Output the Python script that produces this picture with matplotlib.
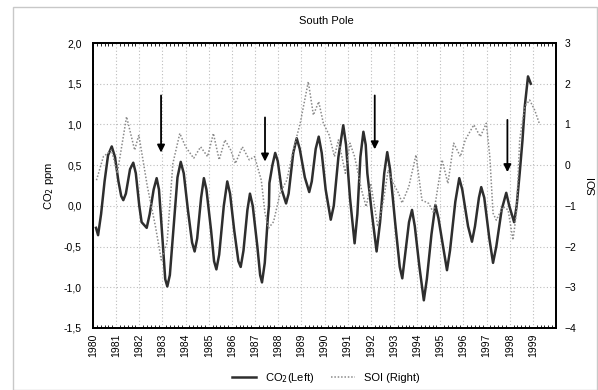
import matplotlib.pyplot as plt
import matplotlib.ticker as mticker
from matplotlib.patches import Rectangle

plt.rcParams['font.family'] = ['Liberation Sans', 'DejaVu Sans']

# CO2 anomaly (left axis, ppm)
co2_t = [1980.13, 1980.22, 1980.35, 1980.5, 1980.65, 1980.81, 1980.95, 1981.1, 1981.22, 1981.31,
         1981.42, 1981.6, 1981.74, 1981.85, 1982.0, 1982.10, 1982.32, 1982.45, 1982.62, 1982.75,
         1982.85, 1983.0, 1983.12, 1983.21, 1983.32, 1983.5, 1983.65, 1983.79, 1983.92, 1984.1,
         1984.28, 1984.39, 1984.5, 1984.67, 1984.79, 1984.9, 1985.1, 1985.23, 1985.33, 1985.45,
         1985.65, 1985.80, 1985.92, 1986.1, 1986.28, 1986.38, 1986.5, 1986.67, 1986.78, 1986.9,
         1987.1, 1987.22, 1987.30, 1987.42, 1987.55, 1987.6, 1987.62, 1987.75, 1987.87, 1987.98,
         1988.15, 1988.34, 1988.45, 1988.65, 1988.80, 1988.93, 1989.15, 1989.34, 1989.45, 1989.62,
         1989.75, 1989.88, 1990.05, 1990.27, 1990.4, 1990.6, 1990.81, 1990.93, 1991.1, 1991.3,
         1991.42, 1991.55, 1991.68, 1991.78, 1991.85, 1992.05, 1992.25, 1992.4, 1992.58, 1992.71,
         1992.83, 1993.05, 1993.25, 1993.36, 1993.48, 1993.65, 1993.78, 1993.9, 1994.1, 1994.29,
         1994.42, 1994.62, 1994.79, 1994.92, 1995.15, 1995.29, 1995.42, 1995.65, 1995.82, 1995.95,
         1996.2, 1996.37, 1996.5, 1996.67, 1996.77, 1996.9, 1997.12, 1997.28, 1997.42, 1997.65,
         1997.85, 1997.98, 1998.19, 1998.3, 1998.43, 1998.55, 1998.65, 1998.79, 1998.91]
co2_v = [-0.27, -0.36, -0.1, 0.3, 0.62, 0.73, 0.6, 0.3, 0.12, 0.07,
         0.15, 0.45, 0.53, 0.4, 0.0, -0.20, -0.27, -0.1, 0.2, 0.34,
         0.2, -0.4, -0.9, -0.99, -0.85, -0.2, 0.35, 0.54, 0.4, -0.05,
         -0.45, -0.56, -0.4, 0.1, 0.34, 0.2, -0.3, -0.68, -0.78, -0.6,
         0.0, 0.30, 0.15, -0.3, -0.68, -0.75, -0.55, -0.05, 0.15, 0.0,
         -0.5, -0.85, -0.94, -0.7, -0.15, 0.0, 0.28, 0.5, 0.65, 0.55,
         0.2, 0.03, 0.15, 0.65, 0.83, 0.7, 0.35, 0.17, 0.3, 0.7,
         0.85, 0.65, 0.2, -0.17, 0.0, 0.6, 0.99, 0.75, 0.1, -0.46,
         -0.1, 0.6, 0.91, 0.75, 0.40, -0.1, -0.56, -0.2, 0.4, 0.66,
         0.45, -0.2, -0.75, -0.89, -0.6, -0.2, -0.05, -0.25, -0.75, -1.16,
         -0.9, -0.35, 0.01, -0.15, -0.55, -0.79, -0.55, 0.05, 0.34, 0.2,
         -0.25, -0.44, -0.25, 0.1, 0.23, 0.1, -0.4, -0.70, -0.5, -0.05,
         0.16, 0.0, -0.20, 0.0, 0.40, 0.8, 1.22, 1.59, 1.50]

# Southern Oscillation Index (right axis)
soi_t = [1980.15, 1980.45, 1980.8, 1981.05, 1981.45, 1981.8, 1981.98, 1982.35, 1982.7, 1982.95,
         1983.2, 1983.45, 1983.75, 1984.0, 1984.35, 1984.65, 1984.95, 1985.2, 1985.45, 1985.7,
         1985.95, 1986.15, 1986.45, 1986.75, 1986.98, 1987.27, 1987.43, 1987.58, 1987.8, 1988.08,
         1988.37, 1988.65, 1988.95, 1989.3, 1989.52, 1989.75, 1989.95, 1990.2, 1990.43, 1990.6,
         1990.9, 1991.1, 1991.3, 1991.6, 1991.8, 1992.0, 1992.3, 1992.55, 1992.75, 1992.97,
         1993.2, 1993.35, 1993.64, 1993.95, 1994.21, 1994.5, 1994.72, 1995.08, 1995.33, 1995.58,
         1995.87, 1996.08, 1996.45, 1996.73, 1996.99, 1997.14, 1997.28, 1997.42, 1997.71, 1997.93,
         1998.14, 1998.29, 1998.43, 1998.65, 1998.86, 1999.08, 1999.3]
soi_v = [-0.37, 0.21, 0.37, -0.2, 1.19, 0.37, 0.74, -0.53, -1.51, -2.33,
         -1.9, 0.04, 0.78, 0.45, 0.17, 0.45, 0.21, 0.78, 0.13, 0.62,
         0.37, 0.04, 0.45, 0.13, 0.21, -0.37, -1.18, -1.55, -1.39, -0.69,
         -0.37, 0.37, 1.03, 2.05, 1.23, 1.56, 1.03, 0.74, 0.21, 0.62,
         -0.2, 0.54, 0.21, -0.61, -1.02, -0.45, -1.51, -0.86, -0.12, -0.45,
         -0.69, -0.93, -0.53, 0.25, -0.86, -0.94, -1.18, 0.13, -0.45, 0.54,
         0.21, 0.62, 0.99, 0.70, 1.03, 0.21, -1.18, -1.35, -1.02, -1.1,
         -1.84, -1.18, 0.62, 1.44, 1.6, 1.35, 0.99]

years = list(range(1980, 2000))
arrow_x = [1982.94, 1987.43, 1992.17, 1997.9]
arrow_top = [1.39, 1.12, 1.39, 1.09]
arrow_tip = [0.62, 0.51, 0.66, 0.38]

fig = plt.figure(figsize=(5.98, 3.90), dpi=100)
fig.patches.append(Rectangle((13 / 598, 0), 584 / 598, 383 / 390, transform=fig.transFigure,
                             fill=False, edgecolor='#c8c8c8', lw=1))
ax = fig.add_axes([0.1555, 0.159, 0.7743, 0.7307])
ax2 = ax.twinx()

ax.plot(co2_t, co2_v, color='#2e2e2e', lw=1.8, zorder=3)
ax2.plot(soi_t, soi_v, color='#8a8a8a', lw=1.1, linestyle=(0, (1, 1.2)))

ax.set_xlim(1980, 2000)
ax.set_ylim(-1.5, 2.0)
ax2.set_ylim(-4, 3)
ax.set_xticks(years)
ax.set_xticklabels([str(y) for y in years], rotation=90, fontsize=7.5)
ax.set_yticks([-1.5, -1.0, -0.5, 0.0, 0.5, 1.0, 1.5, 2.0])
ax.yaxis.set_major_formatter(mticker.FuncFormatter(lambda v, p: ('%.1f' % v).replace('.', ',')))
ax2.set_yticks(range(-4, 4))
ax.tick_params(axis='y', labelsize=7.5, length=0, pad=8)
ax2.tick_params(axis='y', labelsize=7.5, length=0, pad=6)
ax.tick_params(axis='x', length=0, pad=4)
ax.xaxis.set_minor_locator(mticker.MultipleLocator(1 / 6))
ax.tick_params(axis='x', which='minor', direction='in', length=2, top=True, bottom=True)
ax.grid(True, color='#bdbdbd', linestyle=(0, (1, 2)), lw=0.8)
ax2.yaxis.grid(False)
for sp in ax.spines.values():
    sp.set_linewidth(1.3)
for sp in ax2.spines.values():
    sp.set_linewidth(1.3)

for x, y0, y1 in zip(arrow_x, arrow_top, arrow_tip):
    ax.annotate('', xy=(x, y1), xytext=(x, y0),
                arrowprops=dict(arrowstyle='-|>', color='black', lw=1.3, mutation_scale=11), zorder=5)

ax.set_ylabel('CO$_2$ ppm', fontsize=8, labelpad=6)
ax2.set_ylabel('SOI', fontsize=8, labelpad=8)
fig.text(0.545, 0.945, 'South Pole', ha='center', va='center', fontsize=8)

h1, = ax.plot([], [], color='#2e2e2e', lw=1.8)
h2, = ax.plot([], [], color='#8a8a8a', lw=1.1, linestyle=(0, (1, 1.2)))
fig.legend([h1, h2], ['CO$_2$(Left)', 'SOI (Right)'], loc='center', bbox_to_anchor=(0.545, 0.03),
           ncol=2, frameon=False, fontsize=8, handlelength=2.2, columnspacing=1.5)

fig.savefig('out.png', dpi=100)
